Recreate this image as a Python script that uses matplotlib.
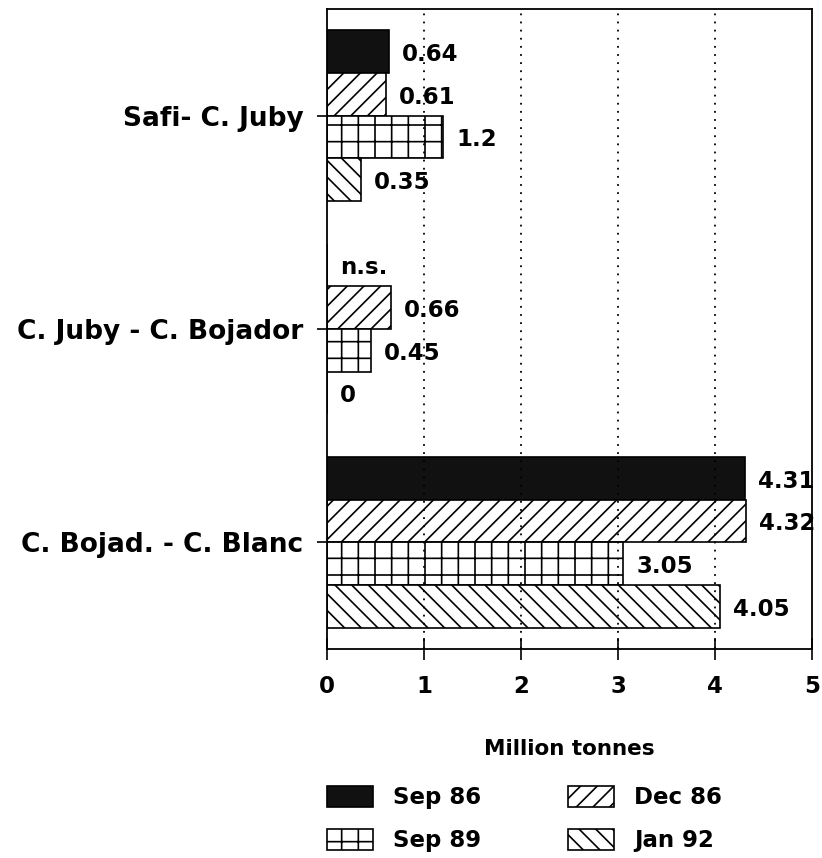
import numpy as np
import matplotlib
matplotlib.use("Agg")
import matplotlib.pyplot as plt

regions = ["Safi- C. Juby", "C. Juby - C. Bojador", "C. Bojad. - C. Blanc"]
series = ["Sep 86", "Dec 86", "Sep 89", "Jan 92"]
sep86 = [0.64, np.nan, 4.31]   # nan -> n.s.
dec86 = [0.61, 0.66, 4.32]
sep89 = [1.2, 0.45, 3.05]
jan92 = [0.35, 0.0, 4.05]
xticks = [0, 1, 2, 3, 4, 5]

values = [sep86, dec86, sep89, jan92]
faces = ["#111111", "white", "white", "white"]
hatches = [None, "//", "+", "\\\\"]

plt.rcParams["font.family"] = ["DejaVu Sans"]
plt.rcParams["font.weight"] = "bold"
plt.rcParams["hatch.linewidth"] = 1.2
plt.rcParams["hatch.color"] = "black"

fig = plt.figure(figsize=(8.22, 8.58), dpi=100)
ax = fig.add_axes([0.3978, 0.2436, 0.5900, 0.7459])

y = np.arange(len(regions))
h = 0.2
handles = []
for i, (vals, fc, ht, name) in enumerate(zip(values, faces, hatches, series)):
    pos = y - 0.3 + i * h
    w = np.nan_to_num(np.array(vals, dtype=float))
    bars = ax.barh(pos, w, height=h, color=fc, hatch=ht, edgecolor="black",
                   linewidth=1.2, label=name, zorder=2)
    handles.append(bars)
    for p, v in zip(pos, vals):
        txt = "n.s." if np.isnan(v) else "{:g}".format(v)
        ax.annotate(txt, xy=(0 if np.isnan(v) else v, p), xytext=(9.5, -2),
                    textcoords="offset points", ha="left", va="center",
                    fontsize=16.5, fontweight="bold", zorder=4)

ax.set_xlim(0, 5)
ax.set_ylim(2.5, -0.5)
ax.set_yticks(y)
ax.set_yticklabels(regions, fontsize=19, fontweight="bold")
ax.set_xticks(xticks)
ax.set_xticklabels([str(t) for t in xticks], fontsize=16.5, fontweight="bold")
ax.tick_params(axis="y", direction="out", length=7, width=1.2, pad=10)
ax.tick_params(axis="x", direction="inout", length=16, width=1.2, pad=11)
ax.set_xlabel("Million tonnes", fontsize=15.5, fontweight="bold", labelpad=29)

for s in ax.spines.values():
    s.set_linewidth(1.3)

ax.set_axisbelow(False)
for gx in [1, 2, 3, 4]:
    ax.axvline(gx, color="black", linewidth=1.3, linestyle=(0, (1, 3.5)), zorder=3)

fig.legend(handles=[handles[0], handles[2], handles[1], handles[3]],
           labels=[series[0], series[2], series[1], series[3]],
           ncol=2, loc="upper left", bbox_to_anchor=(327 / 822, 1 - 786 / 858),
           frameon=False, borderpad=0, borderaxespad=0,
           handlelength=2.0, handleheight=1.05, handletextpad=0.87,
           columnspacing=3.8, labelspacing=0.85,
           prop={"weight": "bold", "size": 16.5})

fig.savefig("out.png", dpi=100)
